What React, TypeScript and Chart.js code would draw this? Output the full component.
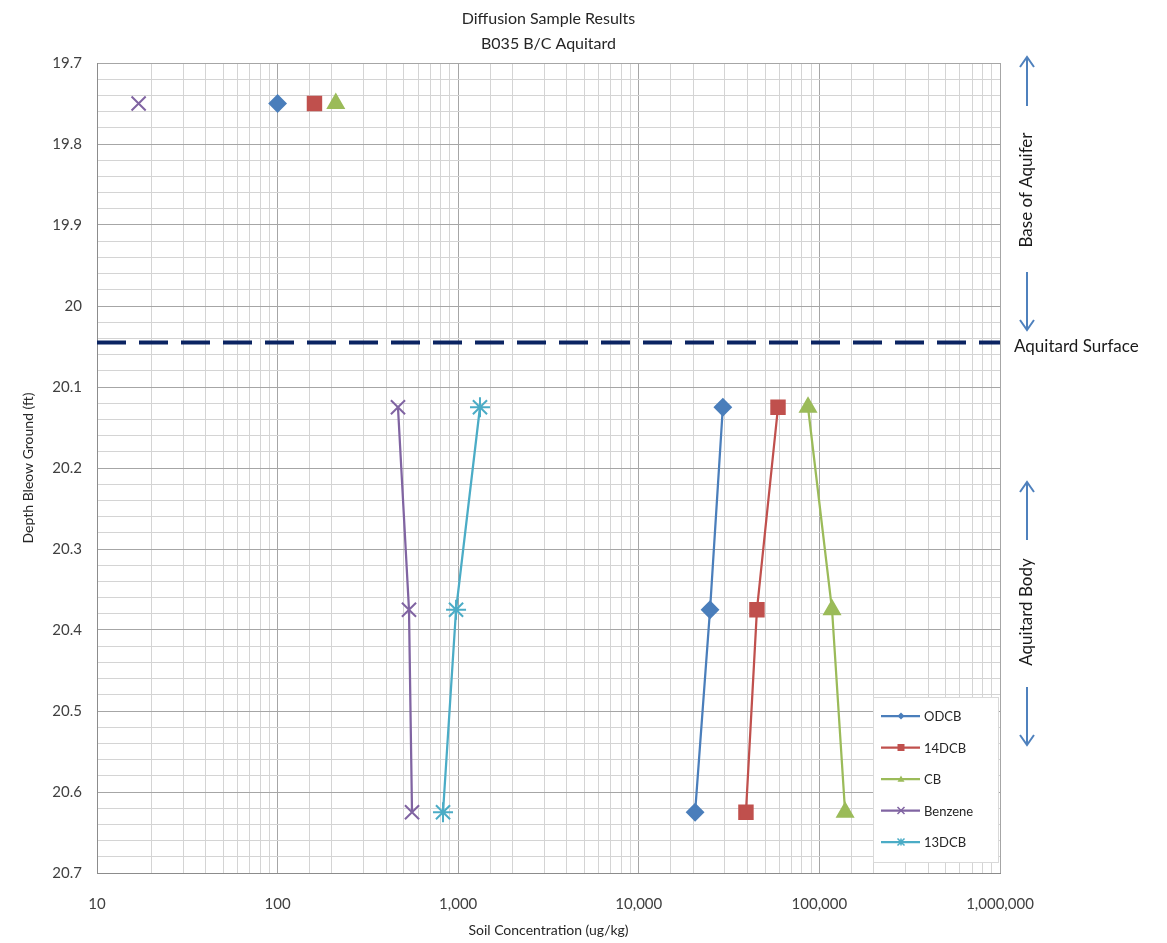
import React, { useEffect, useRef } from "react";
import { Chart, registerables } from "chart.js";

Chart.register(...registerables);

const FONT = "Lato, 'Open Sans', sans-serif";

const titleLines = ["Diffusion Sample Results", "B035 B/C Aquitard"];
const xTitle = "Soil Concentration (ug/kg)";
const yTitle = "Depth Bleow Ground (ft)";

const compounds = ["ODCB", "14DCB", "CB", "Benzene", "13DCB"];
const colors = ["#4a7ebb", "#c0504d", "#9bbb59", "#8064a2", "#4bacc6"];
const pointStyles = ["rectRot", "rect", "triangle", "crossRot", "star"];
const pointSizes = [8, 9.5, 9, 10, 10];

// upper (aquifer base) samples
const topDepth = 19.75;
const topValues: (number | null)[] = [100, 160, 210, 17, null];

// aquitard profile samples
const profileDepths = [20.125, 20.375, 20.625];
const odcb = [29200, 24800, 20500];
const dcb14 = [59000, 45100, 39200];
const cb = [86500, 117500, 138800];
const benzene = [464, 534, 555];
const dcb13 = [1320, 973, 824];
const profiles = [odcb, dcb14, cb, benzene, dcb13];

const aquitardSurface = 20.045;
const yMin = 19.7;
const yMax = 20.7;
const xMin = 10;
const xMax = 1000000;

const isMajorY = (v: number) => Math.abs(v * 10 - Math.round(v * 10)) < 1e-6;
const isMajorX = (v: number) => {
  const l = Math.log10(v);
  return Math.abs(l - Math.round(l)) < 1e-9;
};

function arrow(ctx: CanvasRenderingContext2D, x: number, y1: number, y2: number) {
  ctx.beginPath();
  ctx.moveTo(x, y1);
  ctx.lineTo(x, y2);
  const dir = y2 > y1 ? -1 : 1;
  ctx.moveTo(x - 7, y2 + dir * 10);
  ctx.lineTo(x, y2);
  ctx.lineTo(x + 7, y2 + dir * 10);
  ctx.stroke();
}

function drawMarker(ctx: CanvasRenderingContext2D, style: string, x: number, y: number, r: number) {
  ctx.beginPath();
  if (style === "rectRot") {
    ctx.moveTo(x, y - r);
    ctx.lineTo(x + r, y);
    ctx.lineTo(x, y + r);
    ctx.lineTo(x - r, y);
    ctx.closePath();
    ctx.fill();
  } else if (style === "rect") {
    ctx.rect(x - r, y - r, 2 * r, 2 * r);
    ctx.fill();
  } else if (style === "triangle") {
    ctx.moveTo(x, y - r);
    ctx.lineTo(x + r, y + r * 0.8);
    ctx.lineTo(x - r, y + r * 0.8);
    ctx.closePath();
    ctx.fill();
  } else {
    ctx.moveTo(x - r, y - r);
    ctx.lineTo(x + r, y + r);
    ctx.moveTo(x + r, y - r);
    ctx.lineTo(x - r, y + r);
    if (style === "star") {
      ctx.moveTo(x, y - r);
      ctx.lineTo(x, y + r);
    }
    ctx.stroke();
  }
}

const decorPlugin = {
  id: "decor",
  beforeDatasetsDraw(chart: any) {
    const { ctx, chartArea, scales } = chart;
    const y = scales.y.getPixelForValue(aquitardSurface);
    ctx.save();
    ctx.strokeStyle = "#0b2462";
    ctx.lineWidth = 4;
    ctx.setLineDash([29, 13]);
    ctx.beginPath();
    ctx.moveTo(chartArea.left, y);
    ctx.lineTo(chartArea.right, y);
    ctx.stroke();
    ctx.restore();
  },
  afterDraw(chart: any) {
    const { ctx, chartArea } = chart;
    ctx.save();
    ctx.fillStyle = "#262626";
    ctx.font = `16px ${FONT}`;
    ctx.textAlign = "center";
    ctx.textBaseline = "middle";
    const cx = (chartArea.left + chartArea.right) / 2;
    ctx.fillText(titleLines[0], cx, 19);
    ctx.fillText(titleLines[1], cx, 44);

    ctx.font = `14px ${FONT}`;
    ctx.fillText(xTitle, cx, 930);
    ctx.save();
    ctx.translate(28, (chartArea.top + chartArea.bottom) / 2);
    ctx.rotate(-Math.PI / 2);
    ctx.fillText(yTitle, 0, 0);
    ctx.restore();

    const ax = 1027;
    ctx.strokeStyle = "#4f81bd";
    ctx.lineWidth = 2;
    arrow(ctx, ax, 106, 57);
    arrow(ctx, ax, 272, 330);
    arrow(ctx, ax, 540, 482);
    arrow(ctx, ax, 687, 745);
    ctx.fillStyle = "#1a1a1a";
    ctx.font = `17px ${FONT}`;
    ctx.save();
    ctx.translate(ax, 190);
    ctx.rotate(-Math.PI / 2);
    ctx.fillText("Base of Aquifer", 0, 0);
    ctx.restore();
    ctx.save();
    ctx.translate(ax, 612);
    ctx.rotate(-Math.PI / 2);
    ctx.fillText("Aquitard Body", 0, 0);
    ctx.restore();
    ctx.textAlign = "left";
    ctx.fillText("Aquitard Surface", 1014, 347);

    const lx = 873, ly = 697, lw = 125, lh = 165;
    ctx.fillStyle = "#ffffff";
    ctx.fillRect(lx, ly, lw, lh);
    ctx.strokeStyle = "#d9d9d9";
    ctx.lineWidth = 1;
    ctx.strokeRect(lx + 0.5, ly + 0.5, lw, lh);
    ctx.font = `13px ${FONT}`;
    ctx.textBaseline = "middle";
    compounds.forEach((name, i) => {
      const yy = 716 + i * 31.5;
      ctx.strokeStyle = colors[i];
      ctx.lineWidth = 2.25;
      ctx.beginPath();
      ctx.moveTo(881, yy);
      ctx.lineTo(920, yy);
      ctx.stroke();
      ctx.fillStyle = colors[i];
      ctx.lineWidth = 1.5;
      drawMarker(ctx, pointStyles[i], 901, yy, 3.5);
      ctx.fillStyle = "#262626";
      ctx.fillText(name, 924, yy + 1);
    });
    ctx.restore();
  },
};

export default function App() {
  const ref = useRef<HTMLCanvasElement | null>(null);

  useEffect(() => {
    if (!ref.current) return;
    const datasets: any[] = [];
    compounds.forEach((name, i) => {
      datasets.push({
        label: name,
        data: profileDepths.map((d, k) => ({ x: profiles[i][k], y: d })),
        showLine: true,
        borderColor: colors[i],
        backgroundColor: colors[i],
        borderWidth: 2.25,
        pointStyle: pointStyles[i],
        pointRadius: pointSizes[i],
        pointBorderWidth: 2,
        pointBorderColor: colors[i],
        pointBackgroundColor: colors[i],
      });
      if (topValues[i] !== null) {
        datasets.push({
          label: name + " (upper)",
          data: [{ x: topValues[i], y: topDepth }],
          showLine: false,
          borderColor: colors[i],
          backgroundColor: colors[i],
          pointStyle: pointStyles[i],
          pointRadius: pointSizes[i],
          pointBorderWidth: 2,
          pointBorderColor: colors[i],
          pointBackgroundColor: colors[i],
        });
      }
    });

    const chart = new Chart(ref.current, {
      type: "scatter",
      data: { datasets },
      options: {
        responsive: false,
        animation: false,
        layout: { padding: { left: 0, top: 63, right: 167, bottom: 0 } },
        plugins: {
          legend: { display: false },
          title: { display: false },
          tooltip: { enabled: false },
        },
        scales: {
          x: {
            type: "logarithmic",
            min: xMin,
            max: xMax,
            afterFit: (s: any) => {
              s.height = 70;
            },
            border: { display: true, color: "#8c8c8c", width: 1 },
            grid: {
              drawTicks: false,
              color: (c: any) => (isMajorX(c.tick.value) ? "#a6a6a6" : "#d4d4d4"),
              lineWidth: 1,
            },
            ticks: {
              autoSkip: false,
              maxRotation: 0,
              padding: 22,
              color: "#404040",
              font: { family: FONT, size: 15 },
              callback: (v: any) => (isMajorX(Number(v)) ? Number(v).toLocaleString("en-US") : ""),
            },
          },
          y: {
            type: "linear",
            reverse: true,
            min: yMin,
            max: yMax,
            afterFit: (s: any) => {
              s.width = 97;
            },
            border: { display: true, color: "#8c8c8c", width: 1 },
            grid: {
              drawTicks: false,
              color: (c: any) => (isMajorY(c.tick.value) ? "#a6a6a6" : "#d4d4d4"),
              lineWidth: 1,
            },
            ticks: {
              stepSize: 0.02,
              autoSkip: false,
              padding: 15,
              color: "#404040",
              font: { family: FONT, size: 15 },
              callback: (v: any) => (isMajorY(Number(v)) ? String(Number(Number(v).toFixed(1))) : ""),
            },
          },
        },
      },
      plugins: [decorPlugin],
    });
    return () => chart.destroy();
  }, []);

  return (
    <div style={{ position: "absolute", left: 0, top: 0, width: 1167, height: 943, background: "#fff" }}>
      <canvas ref={ref} width={1167} height={943} />
    </div>
  );
}
